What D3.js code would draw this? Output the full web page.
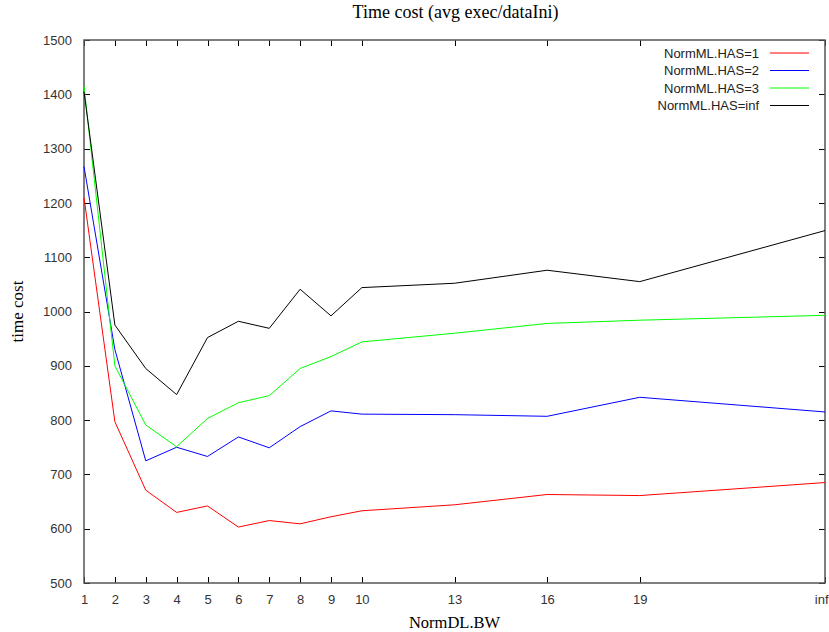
<!DOCTYPE html>
<html>
<head>
<meta charset="utf-8">
<script src="https://cdn.jsdelivr.net/npm/d3@7"></script>
<style>
  body { margin: 0; background: #fff; }
  svg { display: block; }
</style>
</head>
<body>
<div id="mydraw"></div>
<script>
// x categories (inf is drawn as position 25)
var xLabels = ["1","2","3","4","5","6","7","8","9","10","13","16","19","inf"];
var xPos    = [1, 2, 3, 4, 5, 6, 7, 8, 9, 10, 13, 16, 19, 25];

var has1   = [1210, 797, 671, 630, 642, 603, 615, 609, 622, 633, 644, 663, 661, 685];
var has2   = [1267, 930, 725, 750, 733, 769, 749, 788, 817, 811, 810, 807, 842, 815];
var has3   = [1415, 900, 791, 751, 803, 832, 845, 895, 917, 944, 960, 978, 984, 993];
var hasInf = [1405, 975, 895, 847, 952, 982, 969, 1041, 992, 1044, 1052, 1076, 1055, 1149];

var seriesNames  = ["NormML.HAS=1", "NormML.HAS=2", "NormML.HAS=3", "NormML.HAS=inf"];
var seriesColors = ["#ff0000", "#0000ff", "#00ff00", "#000000"];
var yTicks = [500, 600, 700, 800, 900, 1000, 1100, 1200, 1300, 1400, 1500];

var width = 829, height = 632;
var margin = { top: 40, right: 4, bottom: 49, left: 84 };

var svg = d3.select("div#mydraw").append("svg")
    .attr("width", width)
    .attr("height", height);

var x = d3.scaleLinear().domain([1, 25]).range([margin.left, width - margin.right]);
var y = d3.scaleLinear().domain([500, 1500]).range([height - margin.bottom, margin.top]);

var sans = "Liberation Sans, Arial, sans-serif";
var serif = "Liberation Serif, Times New Roman, serif";

// ---------------
// axes (gnuplot style, ticks inward, mirrored)
var tickLen = 6;
function styleAxis(g) {
    g.select(".domain").remove();
    g.selectAll("line").attr("stroke", "#000").attr("shape-rendering", "crispEdges");
    g.selectAll("text").attr("font-family", sans).attr("font-size", 13).attr("fill", "#333");
}

var xAxisG = svg.append("g")
    .attr("transform", "translate(0," + y(500) + ")")
    .call(d3.axisBottom(x).tickValues(xPos).tickFormat(function(d, i) { return xLabels[i]; })
        .tickSizeInner(-tickLen).tickPadding(12))
    .call(styleAxis);

// last label sits against the right edge, as in the original
xAxisG.selectAll(".tick text")
    .filter(function(d) { return d === 25; })
    .attr("text-anchor", "end")
    .attr("dx", 3);

svg.append("g")
    .attr("transform", "translate(0," + y(1500) + ")")
    .call(d3.axisTop(x).tickValues(xPos).tickFormat("").tickSizeInner(-tickLen))
    .call(styleAxis);

svg.append("g")
    .attr("transform", "translate(" + x(1) + ",0)")
    .call(d3.axisLeft(y).tickValues(yTicks).tickFormat(d3.format("d"))
        .tickSizeInner(-tickLen).tickPadding(12))
    .call(styleAxis);

svg.append("g")
    .attr("transform", "translate(" + x(25) + ",0)")
    .call(d3.axisRight(y).tickValues(yTicks).tickFormat("").tickSizeInner(-tickLen))
    .call(styleAxis);

// frame
svg.append("rect")
    .attr("x", x(1)).attr("y", y(1500))
    .attr("width", x(25) - x(1)).attr("height", y(500) - y(1500))
    .attr("fill", "none").attr("stroke", "#555").attr("stroke-width", 1.5);

// ---------------
// lines
var allSeries = [has1, has2, has3, hasInf];
var line = d3.line()
    .x(function(d, i) { return x(xPos[i]); })
    .y(function(d) { return y(d); });

svg.selectAll("path.series")
    .data(allSeries)
    .enter()
    .append("path")
    .attr("class", "series")
    .attr("d", line)
    .attr("fill", "none")
    .attr("stroke", function(d, i) { return seriesColors[i]; })
    .attr("stroke-width", 1);

// ---------------
// legend
var leg = svg.selectAll("g.leg")
    .data(seriesNames)
    .enter()
    .append("g")
    .attr("class", "leg")
    .attr("transform", function(d, i) { return "translate(0," + (53 + i * 17.5) + ")"; });

leg.append("text")
    .attr("x", 759).attr("y", 4.5)
    .attr("text-anchor", "end")
    .attr("font-family", sans).attr("font-size", 13).attr("fill", "#222")
    .text(function(d) { return d; });

leg.append("line")
    .attr("x1", 770).attr("x2", 809)
    .attr("y1", 0).attr("y2", 0)
    .attr("stroke", function(d, i) { return seriesColors[i]; })
    .attr("stroke-width", 1);

// ---------------
// titles
svg.append("text")
    .attr("x", (x(1) + x(25)) / 2 + 1).attr("y", 18)
    .attr("text-anchor", "middle")
    .attr("font-family", serif).attr("font-size", 18)
    .text("Time cost (avg exec/dataIni)");

svg.append("text")
    .attr("x", (x(1) + x(25)) / 2).attr("y", 628)
    .attr("text-anchor", "middle")
    .attr("font-family", serif).attr("font-size", 16.5)
    .text("NormDL.BW");

svg.append("text")
    .attr("transform", "translate(23," + (y(1000)) + ") rotate(-90)")
    .attr("text-anchor", "middle")
    .attr("font-family", serif).attr("font-size", 17)
    .text("time cost");
</script>
</body>
</html>
